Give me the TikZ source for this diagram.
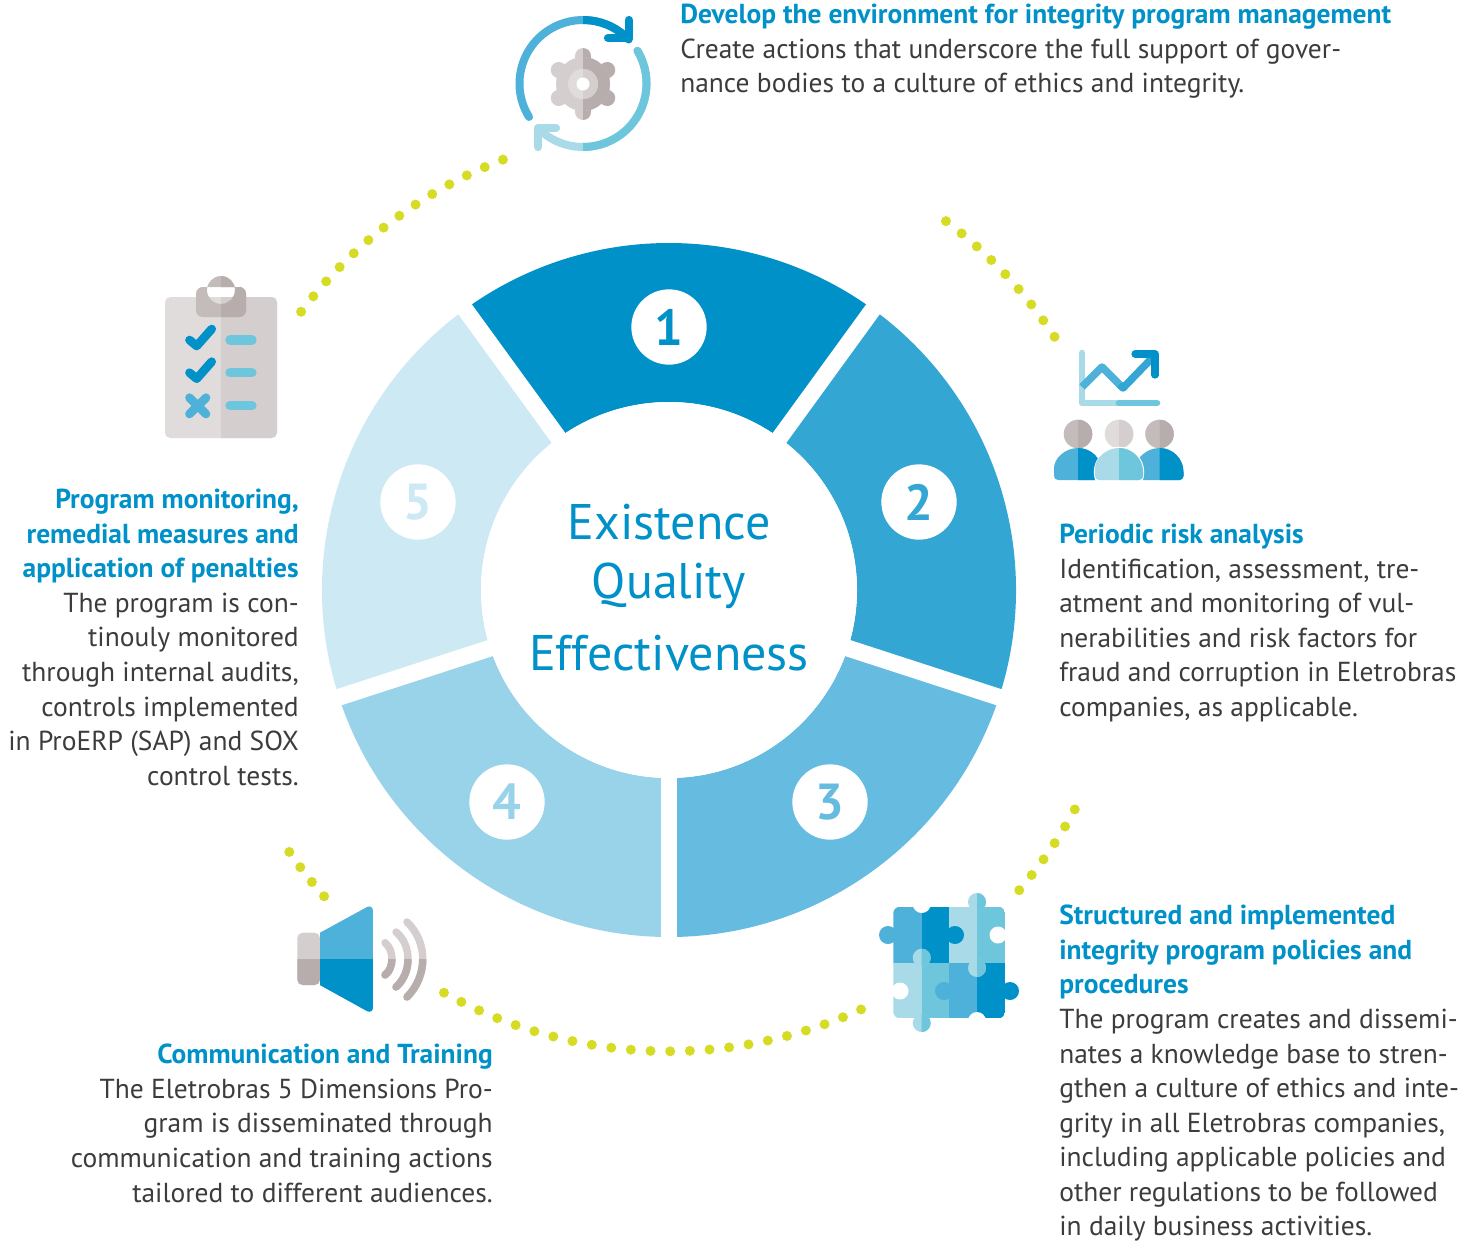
\documentclass[tikz,border=0pt]{standalone}
\usepackage{fontspec}
\setmainfont{PT Sans}
\definecolor{sa}{HTML}{0091C8}
\definecolor{sb}{HTML}{33A6D4}
\definecolor{sc}{HTML}{66BBE0}
\definecolor{sd}{HTML}{99D3E9}
\definecolor{se}{HTML}{CCE9F4}
\definecolor{bodyc}{HTML}{3C3C3B}
\definecolor{dotc}{HTML}{D6DB24}
\definecolor{ib}{HTML}{4DB1D9}
\definecolor{il}{HTML}{A8DAE8}
\definecolor{im}{HTML}{6EC6DC}
\definecolor{ga}{HTML}{E0DCDC}
\definecolor{gb}{HTML}{D5CECE}
\definecolor{gc}{HTML}{C4BBBB}
\definecolor{gd}{HTML}{B8ADAD}
\tikzset{
  bodyblock/.style={inner sep=0pt,text=bodyc,font=\fontsize{20.6}{25.9}\selectfont},
  leftblock/.style={bodyblock,align=left,anchor=north west},
  rightblock/.style={bodyblock,align=right,anchor=north east},
  numdisc/.style={circle,fill=white,minimum size=56.5pt,inner sep=0pt,font=\fontsize{38}{40}\selectfont\bfseries},
  centerline/.style={inner sep=0pt,text=sa,font=\fontsize{37.5}{40}\selectfont},
}
\newcommand\hd[1]{{\bfseries\color{sa}#1}}
\newcommand\splitx[4]{\path[#2] #4;\begin{scope}\clip (#1,-100) rectangle (1600,1400);\path[#3] #4;\end{scope}}
\newcommand\splity[4]{\path[#2] #4;\begin{scope}\clip (-100,#1) rectangle (1600,1400);\path[#3] #4;\end{scope}}
\newcommand\sector[3]{\fill[#1] ([shift={(#2:347)}]c) arc[start angle=#2,end angle=#3,radius=347] -- ([shift={(#3:188)}]c) arc[start angle=#3,end angle=#2,radius=188] -- cycle;}
\newcommand\dotarc[3]{\foreach \i in {0,...,#3}{\pgfmathsetmacro\ang{#1+(#2-(#1))*\i/#3}\fill[dotc] ([shift={(\ang:461.3)}]c) circle[radius=5];}}
\newcommand\person[3]{% cx, left, right
  \splitx{#1}{fill=#2}{fill=#3}{[rounded corners=3] (#1+24,472) -- (#1+24,480) -- (#1-24,480) -- (#1-24,472) [sharp corners] arc[start angle=180,end angle=360,radius=24] -- cycle}}
\begin{document}
\begin{tikzpicture}[x=0.75pt,y=-0.75pt]
\useasboundingbox (0,0) rectangle (1473,1243);
\coordinate (c) at (669,590);
% ring
\sector{sa}{-126}{-54}
\sector{sb}{-54}{18}
\sector{sc}{18}{90}
\sector{sd}{90}{162}
\sector{se}{162}{234}
\foreach \a in {-54,18,90,162,234}{\draw[white,line width=12.6pt] (c) -- ([shift={(\a:360)}]c);}
\fill[white] (c) circle[radius=188];
% numbers
\node[numdisc,text=sa] (n1) at (669,327) {1};
\node[numdisc,text=sb] (n2) at (919,502) {2};
\node[numdisc,text=sc] (n3) at (830,802) {3};
\node[numdisc,text=sd] (n4) at (507,802) {4};
\node[numdisc,text=se] (n5) at (418,502) {5};
% centre
\node[centerline] (ctA) at (669,522) {Existence};
\node[centerline] (ctB) at (669,586) {Quality};
\node[centerline] (ctC) at (669,653) {Effectiveness};
% dotted arcs
\dotarc{-111.1}{-142.9}{13}
\dotarc{-53.1}{-33.3}{8}
\dotarc{28.4}{40.6}{5}
\dotarc{119.2}{65.4}{22}
\dotarc{145.4}{138.4}{3}
% text
\node[leftblock] (t1) at (680,4) {\hd{Develop the environment for integrity program management}\\Create actions that underscore the full support of gover-\\nance bodies to a culture of ethics and integrity.};
\node[leftblock] (t2) at (1059,524) {\hd{Periodic risk analysis}\\Identification, assessment, tre-\\atment and monitoring of vul-\\nerabilities and risk factors for\\fraud and corruption in Eletrobras\\companies, as applicable.};
\node[leftblock] (t3) at (1059,905) {\hd{Structured and implemented}\\\hd{integrity program policies and}\\\hd{procedures}\\The program creates and dissemi-\\nates a knowledge base to stren-\\gthen a culture of ethics and inte-\\grity in all Eletrobras companies,\\including applicable policies and\\other regulations to be followed\\in daily business activities.};
\node[rightblock] (t4) at (493,1044) {\hd{Communication and Training}\\The Eletrobras 5 Dimensions Pro-\\gram is disseminated through\\communication and training actions\\tailored to different audiences.};
\node[rightblock] (t5) at (299,489) {\hd{Program monitoring,}\\\hd{remedial measures and}\\\hd{application of penalties}\\The program is con-\\tinouly monitored\\through internal audits,\\controls implemented\\in ProERP (SAP) and SOX\\control tests.};
% gear icon
\splitx{583}{draw=ib,line width=6pt,line cap=round}{draw=sa,line width=6pt,line cap=round}{([shift={(148.2:63.5)}]583,83.5) arc[start angle=148.2,end angle=316,radius=63.5]}
\draw[sa,line width=6.2pt,line cap=round,line join=round] (608,38) -- (629,38) -- (629,20);
\splitx{583}{draw=il,line width=6pt,line cap=round}{draw=im,line width=6pt,line cap=round}{([shift={(-31:63.5)}]583,83.5) arc[start angle=-31,end angle=135,radius=63.5]}
\draw[il,line width=6.2pt,line cap=round,line join=round] (556,128) -- (538,128) -- (538,147);
\newcommand\gearteeth{(583,84) circle[radius=27] (574,48) -- (592,48) -- (592,120) -- (574,120) -- cycle}
\begin{scope}[line cap=round]
\foreach \a/\xcol in {0/gb,60/gb,120/gb}{
  \begin{scope}\clip (500,0) rectangle (583,170);
  \draw[gb,line width=12pt,rounded corners=1pt] ([shift={(\a+90:28)}]583,84) -- ([shift={(\a+270:28)}]583,84);
  \end{scope}
  \begin{scope}\clip (583,0) rectangle (670,170);
  \draw[gd,line width=12pt] ([shift={(\a+90:28)}]583,84) -- ([shift={(\a+270:28)}]583,84);
  \end{scope}
}
\end{scope}
\splitx{583}{fill=gb}{fill=gd}{(583,84) circle[radius=27]}
\splitx{583}{fill=ga}{fill=gb}{(583,84) circle[radius=15]}
\fill[white] (583,84) circle[radius=6.5];
% clipboard icon
\splitx{221}{fill=ga}{fill=gb}{[rounded corners=4] (165,297) rectangle (277,438)}
\splitx{221}{fill=gc}{fill=gd}{(221,290) circle[radius=14] [rounded corners=5] (196,287) rectangle (246,317)}
\draw[sa,line width=6.5pt,line cap=round,line join=round] (189.5,340) -- (196.7,346) -- (211.7,329);
\draw[sa,line width=6.5pt,line cap=round,line join=round] (189.5,372.7) -- (196.7,378.7) -- (211.7,361.7);
\draw[ib,line width=6.5pt,line cap=round] (189.5,397.7) -- (206,414) (206,397.7) -- (189.5,414);
\foreach \y in {340,372.7,405.7}{\draw[im,line width=7pt,line cap=round] (230,\y) -- (252,\y);}
% chart + people icon
\draw[il,line width=5pt,line cap=round,line join=round] (1082,353) -- (1082,403) -- (1119,403);
\draw[im,line width=5pt,line cap=round] (1119,403) -- (1157,403);
\draw[ib,line width=5.6pt,line join=round] (1082,387) -- (1102,367) -- (1119,384);
\draw[sb,line width=5.6pt,line join=round] (1119,384) -- (1123,388) -- (1155,355);
\draw[sa,line width=5.4pt,line cap=round,line join=round] (1135,354) -- (1155,354) -- (1155,375);
\splitx{1078}{fill=gc}{fill=gd}{(1078,434) circle[radius=14.3]}
\splitx{1159.5}{fill=gc}{fill=gd}{(1159.5,434) circle[radius=14.3]}
\splitx{1119}{fill=ga}{fill=gb}{(1119,434) circle[radius=14.3]}
\person{1078}{ib}{sa}
\person{1159.5}{ib}{sa}
\fill[white] (1119,472) circle[radius=25.2];
\person{1119}{il}{im}
% puzzle icon
\begin{scope}
\clip[rounded corners=5] (893.3,906.7) rectangle (1005,1018.3);
\fill[ib] (893.3,906.7) rectangle (921.7,962.7);
\fill[sa] (921.7,906.7) rectangle (949,962.7);
\fill[il] (949,906.7) rectangle (977,962.7);
\fill[im] (977,906.7) rectangle (1005,962.7);
\fill[il] (893.3,962.7) rectangle (921.7,1018.3);
\fill[im] (921.7,962.7) rectangle (949,1018.3);
\fill[ib] (949,962.7) rectangle (977,1018.3);
\fill[sa] (977,962.7) rectangle (1005,1018.3);
\end{scope}
\fill[ib] (888,935) circle[radius=9];
\fill[sa] (955,935) circle[radius=9];
\fill[ib] (944,991) circle[radius=9];
\fill[sa] (1010,991) circle[radius=9];
\splitx{977}{fill=il}{fill=im}{(977,902) circle[radius=9]}
\splitx{977}{fill=il}{fill=im}{(977,968) circle[radius=9]}
\splitx{921.7}{fill=il}{fill=im}{(921.7,957.7) circle[radius=9]}
\splitx{921.7}{fill=il}{fill=im}{(921.7,1023) circle[radius=9]}
\fill[white] (921.7,904) circle[radius=9] (998,935) circle[radius=8.5] (900,991) circle[radius=8.5] (977,1021) circle[radius=9];
% speaker icon
\splity{959}{fill=gb}{fill=gd}{[rounded corners=4] (297.3,932.7) -- (320,932.7) -- (320,985) -- (297.3,985) -- cycle}
\splity{959}{fill=ib}{fill=sa}{(320,932.7) -- (367,907) .. controls (370,905.5) and (372.8,907) .. (372.8,910) -- (372.8,1008) .. controls (372.8,1011) and (370,1012.5) .. (367,1011) -- (320,985) -- cycle}
\splity{959}{draw=gb,line width=5.6pt,line cap=round}{draw=gd,line width=5.6pt,line cap=round}{(385,942.7) .. controls (394.3,950) and (394.3,968) .. (385,975) (396,932) .. controls (412,945) and (412,973) .. (396,987) (407,922) .. controls (428,942) and (428,976) .. (407,997)}
\end{tikzpicture}
\end{document}
